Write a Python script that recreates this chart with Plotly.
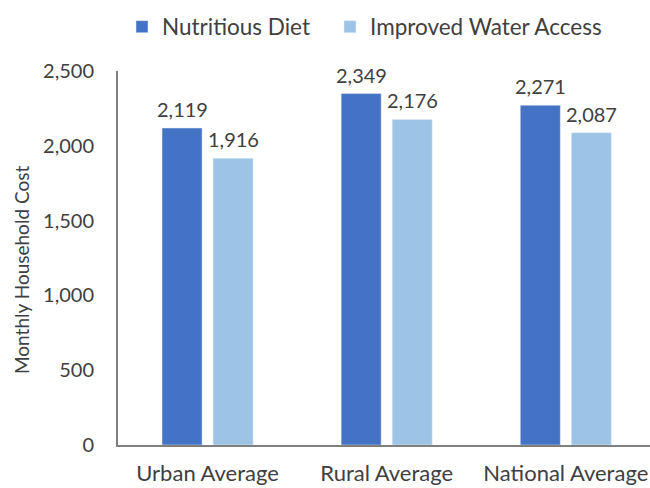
import plotly.graph_objects as go

categories = ["Urban Average", "Rural Average", "National Average"]
nutritious_diet = [2119, 2349, 2271]
improved_water = [1916, 2176, 2087]

FONT = "Lato, Calibri, 'Open Sans', sans-serif"
DARK = "#4472C4"
LIGHT = "#9DC3E6"
TEXT = "#404040"
AXIS = "#7f7f7f"

BARGAP = 0.43
series = [
    ("Nutritious Diet", nutritious_diet, DARK, "legend"),
    ("Improved Water Access", improved_water, LIGHT, "legend2"),
]

fig = go.Figure()
for name, values, color, leg in series:
    fig.add_trace(go.Bar(name=name, x=categories, y=values,
                         marker_color=color, legend=leg))

# value labels above each bar; bar centres sit a quarter of the group width
# either side of the category centre
half_slot = (1 - BARGAP) / 4
annotations = []
for k, (name, values, color, leg) in enumerate(series):
    offset = -half_slot if k == 0 else half_slot
    for i, v in enumerate(values):
        annotations.append(dict(
            x=i + offset, y=v, xref="x", yref="y",
            text=f"{v:,}", showarrow=False,
            xanchor="center", yanchor="bottom", yshift=5,
            font=dict(size=20, color=TEXT, family=FONT),
        ))

# y-axis title
annotations.append(dict(
    text="Monthly Household Cost", xref="paper", yref="paper",
    x=0, y=0.5, xshift=-97, yshift=-12, textangle=-90,
    xanchor="center", yanchor="middle", showarrow=False,
    font=dict(size=19, color=TEXT, family=FONT),
))

legend_style = dict(
    orientation="h", xanchor="left", y=1.1176, yanchor="middle",
    font=dict(size=22.5, color=TEXT, family=FONT), itemwidth=30,
    bgcolor="rgba(0,0,0,0)",
)

fig.update_layout(
    width=650, height=488,
    margin=dict(l=118, r=0, t=71, b=43),
    paper_bgcolor="white", plot_bgcolor="white",
    barmode="group", bargap=BARGAP, bargroupgap=0.216,
    font=dict(family=FONT, color=TEXT, size=20),
    showlegend=True,
    legend=dict(x=0.0075, **legend_style),
    legend2=dict(x=0.3985, **legend_style),
    annotations=annotations,
    xaxis=dict(
        range=[-0.5, 2.47], showgrid=False, showline=True, automargin=False,
        linecolor=AXIS, linewidth=2, ticks="", ticklabelstandoff=8,
        tickfont=dict(size=22, color=TEXT, family=FONT),
    ),
    yaxis=dict(
        range=[0, 2500], dtick=500, tickformat=",", showgrid=False,
        showline=True, linecolor=AXIS, linewidth=2, ticks="", automargin=False,
        zeroline=False, ticklabelstandoff=18,
        tickfont=dict(size=20, color=TEXT, family=FONT),
    ),
)

fig.write_html("out.html")
